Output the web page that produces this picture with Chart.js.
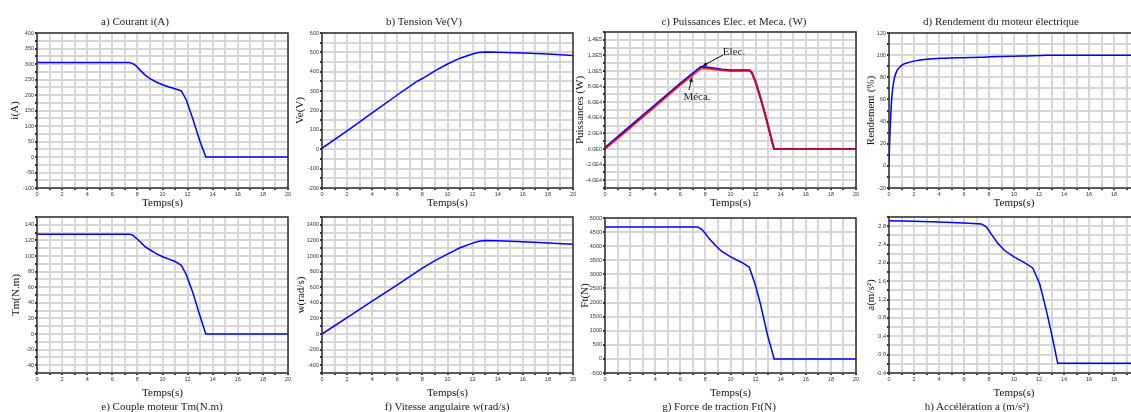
<!DOCTYPE html>
<html>
<head>
<meta charset="utf-8">
<script src="https://cdn.jsdelivr.net/npm/chart.js@4.4.1/dist/chart.umd.min.js"></script>
<style>
  body { margin: 0; width: 1131px; height: 412px; overflow: hidden; background: #fff; position: relative; }
  .panel { position: absolute; }
  .cap { position: absolute; font: 11px "Liberation Serif", serif; line-height: 1; color: #222;
         white-space: nowrap; transform: translate(-50%, -50%); }
</style>
</head>
<body>
<script>
// ===== DATA =====
const tCourant = [0, 7.35, 7.6, 7.9, 8.2, 8.6, 9, 9.5, 10, 10.5, 11, 11.5, 11.9, 12.4, 12.95, 13.45, 20];
const courant  = [305, 305, 302, 294, 281, 265, 253, 242, 233, 226, 220, 213, 184, 125, 55, 0, 0];

const tTension = [0, 2, 4, 6, 7.5, 8, 9, 10, 11, 12, 12.5, 13, 14, 16, 18, 20];
const tension  = [5, 95, 188, 280, 348, 365, 405, 440, 470, 492, 499, 502, 501, 497, 491, 484];

const tElec = [0, 2, 4, 6, 7.6, 7.75, 8.5, 9.3, 10, 11.5, 11.7, 12, 12.4, 12.8, 13.1, 13.47, 20];
const pElec = [1500, 29000, 56500, 84000, 105000, 105500, 104000, 102000, 101000, 101000, 98000, 86000, 65000, 42000, 23000, 0, 0];
const tMeca = [0, 2, 4, 6, 7.6, 7.75, 8.3, 9, 10, 11.5, 11.7, 12, 12.4, 12.8, 13.1, 13.47, 20];
const pMeca = [0, 27000, 54500, 82000, 102500, 103500, 103000, 101500, 100000, 100500, 98000, 86000, 65000, 42000, 23000, 0, 0];

const tRend = [0, 0.05, 0.1, 0.15, 0.2, 0.3, 0.45, 0.6, 0.8, 1.1, 1.5, 2, 3, 4.5, 6, 7.5, 9, 10.5, 12, 12.5, 13, 20];
const rend  = [0, 20, 35, 48, 58, 70, 80, 85, 88.5, 91.5, 93.2, 94.6, 96.2, 97.2, 97.7, 98.2, 98.8, 99.2, 99.6, 99.8, 100, 100];

const tCouple = [0, 7.35, 7.6, 7.9, 8.3, 8.6, 9, 9.5, 10, 10.5, 11, 11.5, 11.9, 12.4, 12.95, 13.45, 20];
const couple  = [128, 128, 127, 123, 117, 112, 108, 103, 99, 96, 93, 88, 76, 54, 25, 0, 0];

const tVitesse = [0, 2, 4, 6, 8, 9, 10, 11, 12, 12.5, 13, 14, 16, 18, 20];
const vitesse  = [0, 210, 420, 630, 845, 940, 1025, 1105, 1165, 1188, 1198, 1196, 1182, 1168, 1150];

const tForce = [0, 7.42, 7.7, 8, 8.3, 8.75, 9.28, 9.95, 10.6, 11, 11.5, 12, 12.4, 12.95, 13.48, 20];
const force  = [4680, 4680, 4600, 4450, 4270, 4050, 3820, 3640, 3490, 3400, 3250, 2600, 1920, 850, 0, 0];

const tAccel = [0, 2, 4, 6, 7.4, 7.8, 8.2, 8.7, 9.25, 10, 10.8, 11.5, 12.05, 12.6, 13.05, 13.5, 20];
const accel  = [2.92, 2.91, 2.89, 2.87, 2.85, 2.78, 2.62, 2.43, 2.27, 2.13, 2.01, 1.89, 1.55, 0.95, 0.4, -0.19, -0.19];

const timeLabelStep = 2;

// ===== FORMATTERS =====
const intFmt = v => String(Math.round(v));
const decFmt = v => (Math.abs(v) < 1e-9 ? 0 : v).toFixed(1);
const sciFmt = v => {
  if (Math.abs(v) < 1e-9) return "0.0E0";
  const e = Math.floor(Math.log10(Math.abs(v)) + 1e-9);
  return (v / Math.pow(10, e)).toFixed(1) + "E" + e;
};

const BLUE = "#0000ff";
const RED = "rgba(255,0,0,0.8)";

// ===== PANELS =====
const panels = [
  { rect: [37, 33, 288, 188], row: 0, cap: "a) Courant i(A)", capX: 135, yTitle: "i(A)", yPad: 8.9,
    min: -100, max: 400, step: 25, every: 50, fmt: intFmt,
    series: [{ t: tCourant, v: courant, color: BLUE }] },
  { rect: [322, 33, 573, 188], row: 0, cap: "b) Tension Ve(V)", capX: 424, yTitle: "Ve(V)", yPad: 8.4,
    min: -200, max: 600, step: 50, every: 100, fmt: intFmt,
    series: [{ t: tTension, v: tension, color: BLUE }] },
  { rect: [605, 32, 856, 188], row: 0, cap: "c) Puissances Elec. et Meca. (W)", capX: 734, yTitle: "Puissances (W)", yPad: 5.9,
    min: -50000, max: 150000, step: 10000, every: 20000, fmt: sciFmt, notes: true,
    series: [{ t: tMeca, v: pMeca, color: RED, width: 2 }, { t: tElec, v: pElec, color: BLUE, width: 2 }] },
  { rect: [889, 33, 1139, 188], row: 0, cap: "d) Rendement du moteur électrique", capX: 1001, yTitle: "Rendement (%)", yPad: 12.4,
    min: -20, max: 120, step: 10, every: 20, fmt: intFmt, smooth: true,
    series: [{ t: tRend, v: rend, color: BLUE }] },
  { rect: [37, 217, 288, 373], row: 1, cap: "e) Couple moteur Tm(N.m)", capX: 162, yTitle: "Tm(N.m)", yPad: 9.4,
    min: -50, max: 150, step: 10, every: 20, fmt: intFmt,
    series: [{ t: tCouple, v: couple, color: BLUE }] },
  { rect: [322, 217, 573, 373], row: 1, cap: "f) Vitesse angulaire w(rad/s)", capX: 447, yTitle: "w(rad/s)", yPad: 9.4,
    min: -500, max: 1500, step: 100, every: 200, fmt: intFmt,
    series: [{ t: tVitesse, v: vitesse, color: BLUE }] },
  { rect: [605, 218, 856, 373], row: 1, cap: "g) Force de traction Ft(N)", capX: 719, yTitle: "Ft(N)", yPad: 10.9,
    min: -500, max: 5000, step: 500, every: 500, fmt: intFmt,
    series: [{ t: tForce, v: force, color: BLUE }] },
  { rect: [889, 217, 1139, 373], row: 1, cap: "h) Accélération a (m/s²)", capX: 977, yTitle: "a(m/s²)", yPad: 12.4,
    min: -0.4, max: 3.0, step: 0.2, every: 0.4, fmt: decFmt,
    series: [{ t: tAccel, v: accel, color: BLUE }] },
];

// arrows + labels on panel c (data coordinates)
const powerNotes = [
  { text: "Elec.", at: [10.28, 124400], from: [9.4, 120500], to: [7.78, 106400] },
  { text: "Méca.", at: [7.33, 66000], from: [6.69, 75600], to: [6.93, 91900] },
];

// ===== PLUGINS =====
const framePlugin = {
  id: "frame",
  afterDatasetsDraw(chart) {
    const { ctx, chartArea: a } = chart;
    ctx.save();
    ctx.strokeStyle = "#333";
    ctx.lineWidth = 1.5;
    ctx.strokeRect(a.left, a.top, a.right - a.left, a.bottom - a.top);
    ctx.restore();
  }
};

const notesPlugin = {
  id: "notes",
  afterDatasetsDraw(chart, args, opts) {
    if (!opts.items) return;
    const { ctx, scales: { x, y } } = chart;
    ctx.save();
    ctx.strokeStyle = "#111";
    ctx.fillStyle = "#111";
    ctx.lineWidth = 1;
    opts.items.forEach(n => {
      const x1 = x.getPixelForValue(n.from[0]), y1 = y.getPixelForValue(n.from[1]);
      const x2 = x.getPixelForValue(n.to[0]), y2 = y.getPixelForValue(n.to[1]);
      ctx.beginPath(); ctx.moveTo(x1, y1); ctx.lineTo(x2, y2); ctx.stroke();
      const ang = Math.atan2(y2 - y1, x2 - x1);
      ctx.beginPath();
      ctx.moveTo(x2, y2);
      ctx.lineTo(x2 - 5 * Math.cos(ang - 0.4), y2 - 5 * Math.sin(ang - 0.4));
      ctx.lineTo(x2 - 5 * Math.cos(ang + 0.4), y2 - 5 * Math.sin(ang + 0.4));
      ctx.closePath(); ctx.fill();
      ctx.font = '11px "Liberation Serif"';
      ctx.textAlign = "center";
      ctx.textBaseline = "middle";
      ctx.fillStyle = "#222";
      ctx.fillText(n.text, x.getPixelForValue(n.at[0]), y.getPixelForValue(n.at[1]));
      ctx.fillStyle = "#111";
    });
    ctx.restore();
  }
};

// ===== BUILD CHARTS =====
const tickFont = { family: "Liberation Sans", size: 5.5 };
const titleFont = { family: "Liberation Serif", size: 11 };
const isLabel = (v, every) => Math.abs(v / every - Math.round(v / every)) < 1e-6;

panels.forEach(p => {
  const [L, T, R, B] = p.rect;
  const rowTop = p.row ? 205 : 0;
  const rowH = p.row ? 207 : 212;
  const padBottom = p.row ? 11 : 0;
  const xH = rowH - padBottom - (B - rowTop);
  const yW = 37;
  const left = L - yW;
  const W = R - left + 8;

  const div = document.createElement("div");
  div.className = "panel";
  div.style.left = left + "px";
  div.style.top = rowTop + "px";
  const canvas = document.createElement("canvas");
  canvas.width = W; canvas.height = rowH;
  canvas.style.width = W + "px"; canvas.style.height = rowH + "px";
  div.appendChild(canvas);
  document.body.appendChild(div);

  const cap = document.createElement("div");
  cap.className = "cap";
  cap.textContent = p.cap;
  cap.style.left = p.capX + "px";
  cap.style.top = (p.row ? 406 : 21) + "px";
  document.body.appendChild(cap);

  new Chart(canvas, {
    type: "line",
    data: {
      datasets: p.series.map(s => ({
        data: s.t.map((t, i) => ({ x: t, y: s.v[i] })),
        borderColor: s.color,
        borderWidth: s.width || 1.5,
        pointRadius: 0,
        fill: false,
        tension: 0,
        cubicInterpolationMode: p.smooth ? "monotone" : "default",
      })),
    },
    options: {
      responsive: false,
      devicePixelRatio: 1,
      animation: false,
      layout: { padding: { left: 0, top: T - rowTop, right: 8, bottom: padBottom } },
      plugins: {
        legend: { display: false },
        tooltip: { enabled: false },
        notes: { items: p.notes ? powerNotes : null },
      },
      scales: {
        x: {
          type: "linear", min: 0, max: 20,
          afterFit: s => { s.height = xH; },
          ticks: {
            stepSize: 1, autoSkip: false, maxRotation: 0, padding: 1,
            font: tickFont, color: "#333",
            callback: v => (v % timeLabelStep === 0 ? String(v) : ""),
          },
          grid: { color: "#d6d6d6", lineWidth: 2, tickLength: 2, tickColor: "#333" },
          border: { display: false },
          title: { display: true, text: "Temps(s)", font: titleFont, color: "#111",
                   padding: { top: 0, bottom: p.row ? 1.4 : 2 } },
        },
        y: {
          type: "linear", min: p.min, max: p.max,
          afterFit: s => { s.width = yW; },
          ticks: {
            stepSize: p.step, autoSkip: false, padding: 1,
            font: tickFont, color: "#333",
            callback: v => (isLabel(v, p.every) ? p.fmt(v) : ""),
          },
          grid: { color: "#d6d6d6", lineWidth: 2, tickLength: 2, tickColor: "#333" },
          border: { display: false },
          title: { display: true, text: p.yTitle, font: titleFont, color: "#111",
                   padding: { top: p.yPad, bottom: 0 } },
        },
      },
    },
    plugins: [framePlugin, notesPlugin],
  });
});
</script>
</body>
</html>
